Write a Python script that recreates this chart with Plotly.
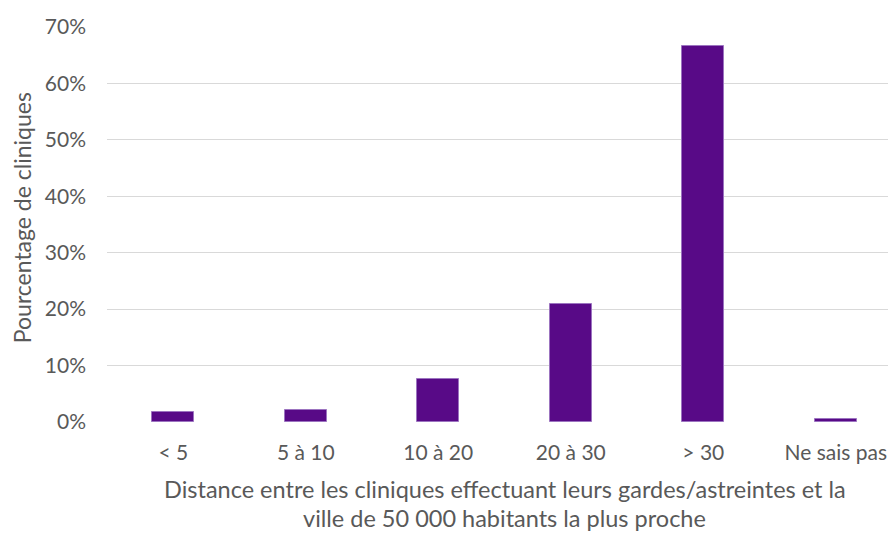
import plotly.graph_objects as go

# Distance bands (km) and share of clinics in each band
categories = ["< 5", "5 à 10", "10 à 20", "20 à 30", "> 30", "Ne sais pas"]
shares = [0.017, 0.022, 0.077, 0.209, 0.667, 0.005]
y_ticks = [0, 0.1, 0.2, 0.3, 0.4, 0.5, 0.6, 0.7]
y_tick_labels = ["0%", "10%", "20%", "30%", "40%", "50%", "60%", "70%"]

x_title_lines = [
    "Distance entre les cliniques effectuant leurs gardes/astreintes et la",
    "ville de 50 000 habitants la plus proche",
]
y_title = "Pourcentage de cliniques"

FONT = "Lato, 'Noto Sans', sans-serif"
TEXT = "#595959"

fig = go.Figure(
    go.Bar(
        x=categories,
        y=shares,
        width=0.315,
        marker=dict(color="#580A87", line=dict(color="#9C74C0", width=1)),
        hoverinfo="x+y",
    )
)

fig.update_layout(
    width=888,
    height=536,
    margin=dict(l=107, r=0, t=27, b=114),
    paper_bgcolor="white",
    plot_bgcolor="white",
    showlegend=False,
    font=dict(family=FONT, color=TEXT),
    bargap=0,
)

fig.update_xaxes(
    type="category",
    range=[-0.5, 5.394],
    showgrid=False,
    showline=False,
    ticks="",
    tickfont=dict(size=21, color=TEXT, family=FONT),
    ticklabelstandoff=16,
    zeroline=False,
)

fig.update_yaxes(
    range=[0, 0.7],
    tickvals=y_ticks,
    ticktext=y_tick_labels,
    showgrid=True,
    gridcolor="#D9D9D9",
    gridwidth=1.3,
    zeroline=False,
    showline=False,
    ticks="",
    tickfont=dict(size=21, color=TEXT, family=FONT),
    ticklabelstandoff=20,
)

# Two-line x-axis title centred under the category span
for line, ypos in zip(x_title_lines, [-0.170, -0.243]):
    fig.add_annotation(
        text=line,
        x=2.5,
        xref="x",
        y=ypos,
        yref="paper",
        xanchor="center",
        yanchor="middle",
        showarrow=False,
        font=dict(size=23.5, color=TEXT, family=FONT),
    )

fig.add_annotation(
    text=y_title,
    x=(22 - 107) / 781,
    xref="paper",
    y=0.516,
    yref="paper",
    xanchor="center",
    yanchor="middle",
    textangle=-90,
    showarrow=False,
    font=dict(size=23, color=TEXT, family=FONT),
)

fig.write_html("out.html")
